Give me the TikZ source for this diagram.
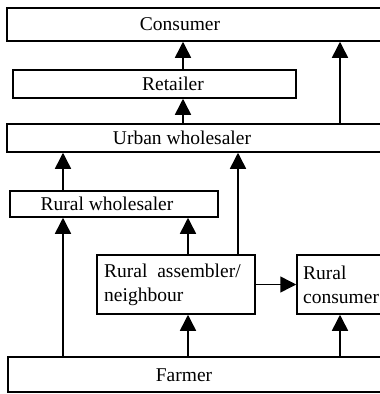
\documentclass[tikz,border=0pt]{standalone}
\usepackage{fontspec}
\setmainfont{Liberation Serif}
\usetikzlibrary{arrows.meta}
\begin{document}
\begin{tikzpicture}[x=1pt,y=-1pt,
  box/.style={draw,line width=1.5pt,rectangle,inner sep=0pt},
  lbl/.style={inner sep=0pt,font=\fontsize{19.5}{24}\selectfont},
  arr/.style={line width=1.5pt,-{Triangle[width=16pt,length=16pt]}}]
\useasboundingbox (0,0) rectangle (380,394);
\clip (0,0) rectangle (380,394);
% boxes
\node[box,minimum width=378pt,minimum height=33pt] (consumer) at (196,24.5) {};
\node[box,minimum width=283pt,minimum height=28pt] (retailer) at (154.5,84) {};
\node[box,minimum width=378pt,minimum height=28pt] (urban) at (196,138) {};
\node[box,minimum width=208pt,minimum height=26pt] (rwhole) at (114,204) {};
\node[box,minimum width=158pt,minimum height=59pt] (assembler) at (176,284.5) {};
\node[box,minimum width=103pt,minimum height=59pt] (rcons) at (348.5,284.5) {};
\node[box,minimum width=377pt,minimum height=35pt] (farmer) at (196.5,374.5) {};
% labels
\node[lbl] (consumer-t) at (180,24) {Consumer};
\node[lbl] (retailer-t) at (173,84) {Retailer};
\node[lbl] (urban-t) at (182,138) {Urban wholesaler};
\node[lbl] (rwhole-t) at (107,204) {Rural wholesaler};
\node[lbl,anchor=west,align=left] (assembler-t) at (104,284.5) {Rural\hspace{0.5em}assembler/\\neighbour};
\node[lbl,anchor=west,align=left] (rcons-t) at (303,284.5) {Rural\\consumer};
\node[lbl] (farmer-t) at (184,375) {Farmer};
% arrow columns
\coordinate (c1) at (63,0);
\coordinate (c2) at (183,0);
\coordinate (c3) at (188,0);
\coordinate (c4) at (238,0);
\coordinate (c5) at (340,0);
% connectors
\draw[arr] (retailer.north -| c2) -- (consumer.south -| c2);
\draw[arr] (urban.north -| c2) -- (retailer.south -| c2);
\draw[arr] (urban.north -| c5) -- (consumer.south -| c5);
\draw[arr] (rwhole.north -| c1) -- (urban.south -| c1);
\draw[arr] (assembler.north -| c4) -- (urban.south -| c4);
\draw[arr] (assembler.north -| c3) -- (rwhole.south -| c3);
\draw[arr] (assembler.east) -- (rcons.west);
\draw[arr] (farmer.north -| c1) -- (rwhole.south -| c1);
\draw[arr] (farmer.north -| c3) -- (assembler.south -| c3);
\draw[arr] (farmer.north -| c5) -- (rcons.south -| c5);
\end{tikzpicture}
\end{document}
